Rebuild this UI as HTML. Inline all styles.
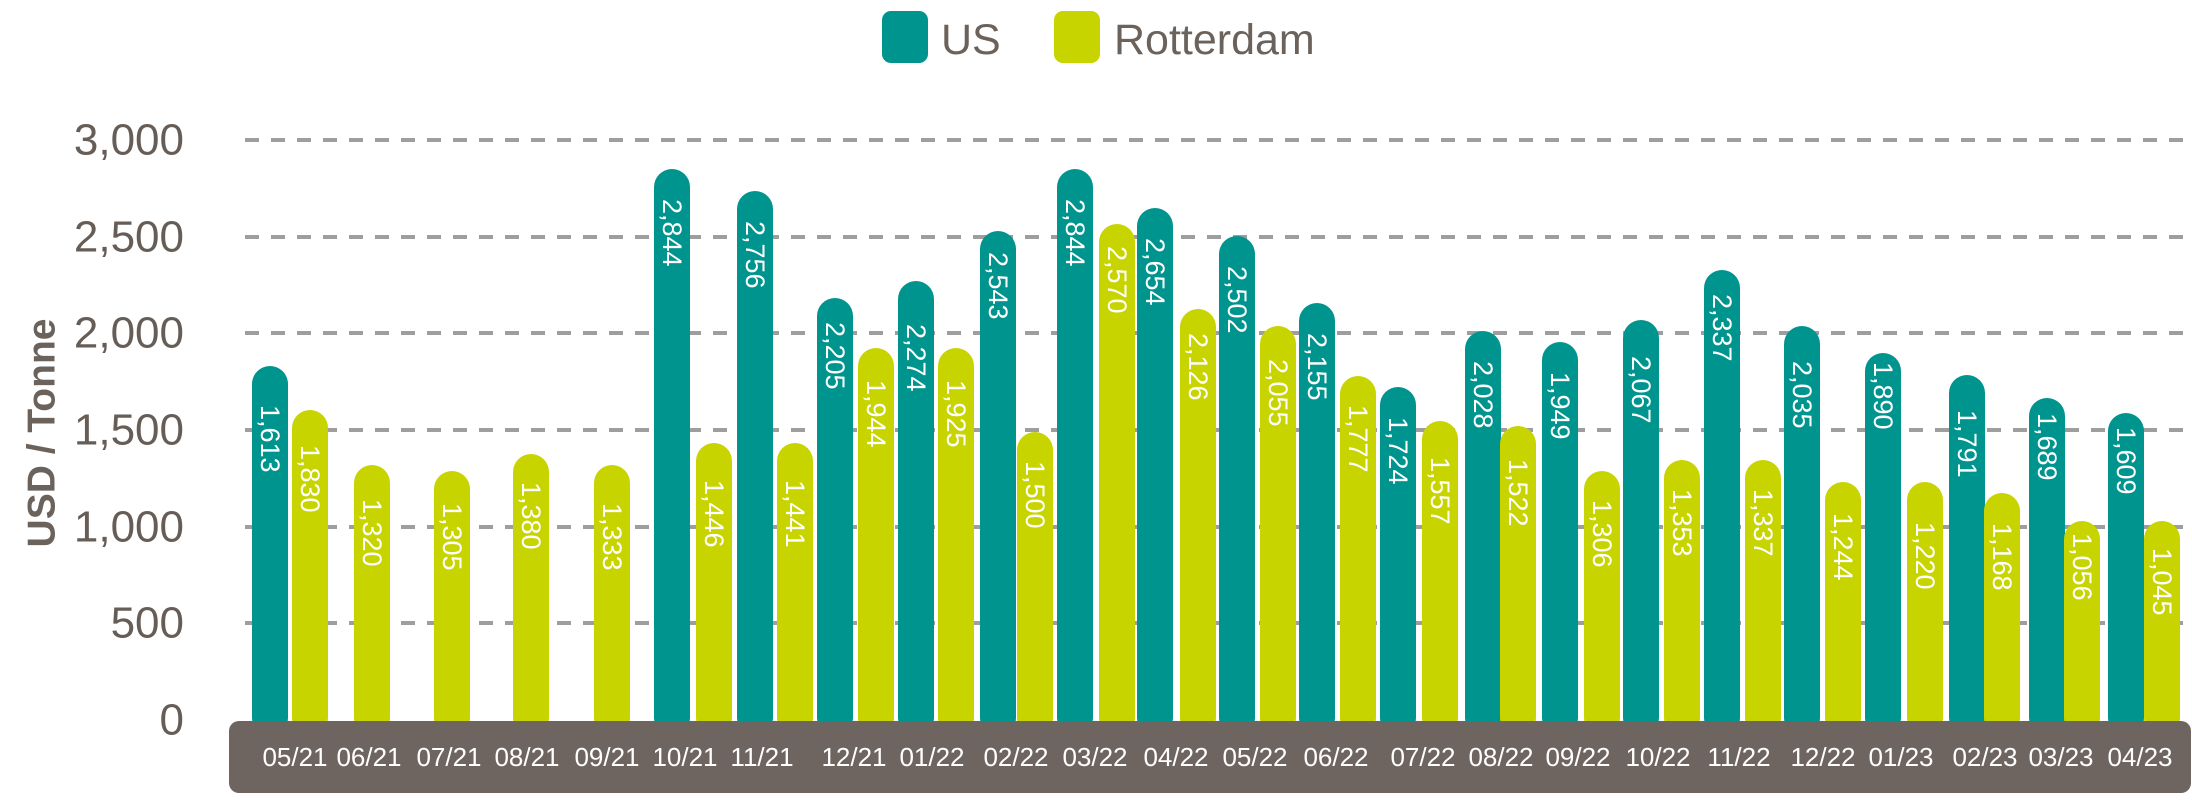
<!DOCTYPE html>
<html><head><meta charset="utf-8"><style>
html,body{margin:0;padding:0;background:#fff;}
svg{display:block;font-family:"Liberation Sans",sans-serif;}
</style></head><body>
<svg width="2192" height="809" viewBox="0 0 2192 809" xmlns="http://www.w3.org/2000/svg">
<rect x="882" y="11" width="46" height="52" rx="9" fill="#00948f"/>
<text x="941" y="54" font-size="43" fill="#6b625c">US</text>
<rect x="1054" y="11" width="46" height="52" rx="9" fill="#c8d400"/>
<text x="1114" y="54" font-size="43" fill="#6b625c">Rotterdam</text>
<g stroke="#9e9e9e" stroke-width="4" stroke-dasharray="14 12">
<line x1="245" y1="140" x2="2192" y2="140"/>
<line x1="245" y1="237" x2="2192" y2="237"/>
<line x1="245" y1="333" x2="2192" y2="333"/>
<line x1="245" y1="430" x2="2192" y2="430"/>
<line x1="245" y1="527" x2="2192" y2="527"/>
<line x1="245" y1="623" x2="2192" y2="623"/>
</g>
<g font-size="44" fill="#665d57" text-anchor="end" dominant-baseline="central">
<text x="184" y="140">3,000</text>
<text x="184" y="237">2,500</text>
<text x="184" y="333">2,000</text>
<text x="184" y="430">1,500</text>
<text x="184" y="527">1,000</text>
<text x="184" y="623">500</text>
<text x="184" y="720">0</text>
</g>
<text transform="translate(42,433) rotate(-90)" font-size="39" font-weight="bold" fill="#6b625c" text-anchor="middle" dominant-baseline="central">USD / Tonne</text>
<g>
<rect x="252" y="366" width="36" height="370" rx="18" fill="#00948f"/>
<rect x="292" y="410" width="36" height="326" rx="18" fill="#c8d400"/>
<rect x="354" y="465" width="36" height="271" rx="18" fill="#c8d400"/>
<rect x="434" y="471" width="36" height="265" rx="18" fill="#c8d400"/>
<rect x="513" y="454" width="36" height="282" rx="18" fill="#c8d400"/>
<rect x="594" y="465" width="36" height="271" rx="18" fill="#c8d400"/>
<rect x="654" y="169" width="36" height="567" rx="18" fill="#00948f"/>
<rect x="696" y="443" width="36" height="293" rx="18" fill="#c8d400"/>
<rect x="737" y="191" width="36" height="545" rx="18" fill="#00948f"/>
<rect x="777" y="443" width="36" height="293" rx="18" fill="#c8d400"/>
<rect x="817" y="298" width="36" height="438" rx="18" fill="#00948f"/>
<rect x="858" y="348" width="36" height="388" rx="18" fill="#c8d400"/>
<rect x="898" y="281" width="36" height="455" rx="18" fill="#00948f"/>
<rect x="938" y="348" width="36" height="388" rx="18" fill="#c8d400"/>
<rect x="980" y="231" width="36" height="505" rx="18" fill="#00948f"/>
<rect x="1017" y="432" width="36" height="304" rx="18" fill="#c8d400"/>
<rect x="1057" y="169" width="36" height="567" rx="18" fill="#00948f"/>
<rect x="1099" y="224" width="36" height="512" rx="18" fill="#c8d400"/>
<rect x="1137" y="208" width="36" height="528" rx="18" fill="#00948f"/>
<rect x="1180" y="309" width="36" height="427" rx="18" fill="#c8d400"/>
<rect x="1219" y="236" width="36" height="500" rx="18" fill="#00948f"/>
<rect x="1260" y="326" width="36" height="410" rx="18" fill="#c8d400"/>
<rect x="1299" y="303" width="36" height="433" rx="18" fill="#00948f"/>
<rect x="1340" y="376" width="36" height="360" rx="18" fill="#c8d400"/>
<rect x="1380" y="387" width="36" height="349" rx="18" fill="#00948f"/>
<rect x="1422" y="421" width="36" height="315" rx="18" fill="#c8d400"/>
<rect x="1465" y="331" width="36" height="405" rx="18" fill="#00948f"/>
<rect x="1500" y="426" width="36" height="310" rx="18" fill="#c8d400"/>
<rect x="1542" y="342" width="36" height="394" rx="18" fill="#00948f"/>
<rect x="1584" y="471" width="36" height="265" rx="18" fill="#c8d400"/>
<rect x="1623" y="320" width="36" height="416" rx="18" fill="#00948f"/>
<rect x="1664" y="460" width="36" height="276" rx="18" fill="#c8d400"/>
<rect x="1704" y="270" width="36" height="466" rx="18" fill="#00948f"/>
<rect x="1745" y="460" width="36" height="276" rx="18" fill="#c8d400"/>
<rect x="1784" y="326" width="36" height="410" rx="18" fill="#00948f"/>
<rect x="1825" y="482" width="36" height="254" rx="18" fill="#c8d400"/>
<rect x="1865" y="353" width="36" height="383" rx="18" fill="#00948f"/>
<rect x="1907" y="482" width="36" height="254" rx="18" fill="#c8d400"/>
<rect x="1949" y="375" width="36" height="361" rx="18" fill="#00948f"/>
<rect x="1984" y="493" width="36" height="243" rx="18" fill="#c8d400"/>
<rect x="2029" y="398" width="36" height="338" rx="18" fill="#00948f"/>
<rect x="2064" y="521" width="36" height="215" rx="18" fill="#c8d400"/>
<rect x="2108" y="413" width="36" height="323" rx="18" fill="#00948f"/>
<rect x="2144" y="521" width="36" height="215" rx="18" fill="#c8d400"/>
</g>
<g font-size="27" fill="#fff" dominant-baseline="central">
<text transform="translate(270,405) rotate(90)">1,613</text>
<text transform="translate(310,445) rotate(90)">1,830</text>
<text transform="translate(372,499) rotate(90)">1,320</text>
<text transform="translate(452,503) rotate(90)">1,305</text>
<text transform="translate(531,482) rotate(90)">1,380</text>
<text transform="translate(612,503) rotate(90)">1,333</text>
<text transform="translate(672,199) rotate(90)">2,844</text>
<text transform="translate(714,480) rotate(90)">1,446</text>
<text transform="translate(755,221) rotate(90)">2,756</text>
<text transform="translate(795,480) rotate(90)">1,441</text>
<text transform="translate(835,322) rotate(90)">2,205</text>
<text transform="translate(876,380) rotate(90)">1,944</text>
<text transform="translate(916,324) rotate(90)">2,274</text>
<text transform="translate(956,380) rotate(90)">1,925</text>
<text transform="translate(998,252) rotate(90)">2,543</text>
<text transform="translate(1035,461) rotate(90)">1,500</text>
<text transform="translate(1075,199) rotate(90)">2,844</text>
<text transform="translate(1117,246) rotate(90)">2,570</text>
<text transform="translate(1155,238) rotate(90)">2,654</text>
<text transform="translate(1198,333) rotate(90)">2,126</text>
<text transform="translate(1237,266) rotate(90)">2,502</text>
<text transform="translate(1278,359) rotate(90)">2,055</text>
<text transform="translate(1317,333) rotate(90)">2,155</text>
<text transform="translate(1358,405) rotate(90)">1,777</text>
<text transform="translate(1398,417) rotate(90)">1,724</text>
<text transform="translate(1440,457) rotate(90)">1,557</text>
<text transform="translate(1483,361) rotate(90)">2,028</text>
<text transform="translate(1518,459) rotate(90)">1,522</text>
<text transform="translate(1560,372) rotate(90)">1,949</text>
<text transform="translate(1602,500) rotate(90)">1,306</text>
<text transform="translate(1641,356) rotate(90)">2,067</text>
<text transform="translate(1682,489) rotate(90)">1,353</text>
<text transform="translate(1722,294) rotate(90)">2,337</text>
<text transform="translate(1763,489) rotate(90)">1,337</text>
<text transform="translate(1802,361) rotate(90)">2,035</text>
<text transform="translate(1843,513) rotate(90)">1,244</text>
<text transform="translate(1883,362) rotate(90)">1,890</text>
<text transform="translate(1925,522) rotate(90)">1,220</text>
<text transform="translate(1967,410) rotate(90)">1,791</text>
<text transform="translate(2002,523) rotate(90)">1,168</text>
<text transform="translate(2047,413) rotate(90)">1,689</text>
<text transform="translate(2082,533) rotate(90)">1,056</text>
<text transform="translate(2126,427) rotate(90)">1,609</text>
<text transform="translate(2162,548) rotate(90)">1,045</text>
</g>
<rect x="229" y="721" width="1962" height="72" rx="10" fill="#6f6560"/>
<g font-size="26" fill="#fff" text-anchor="middle" dominant-baseline="central">
<text x="295" y="757">05/21</text>
<text x="369" y="757">06/21</text>
<text x="449" y="757">07/21</text>
<text x="527" y="757">08/21</text>
<text x="607" y="757">09/21</text>
<text x="685" y="757">10/21</text>
<text x="762" y="757">11/21</text>
<text x="854" y="757">12/21</text>
<text x="932" y="757">01/22</text>
<text x="1016" y="757">02/22</text>
<text x="1095" y="757">03/22</text>
<text x="1176" y="757">04/22</text>
<text x="1255" y="757">05/22</text>
<text x="1336" y="757">06/22</text>
<text x="1423" y="757">07/22</text>
<text x="1501" y="757">08/22</text>
<text x="1578" y="757">09/22</text>
<text x="1658" y="757">10/22</text>
<text x="1739" y="757">11/22</text>
<text x="1823" y="757">12/22</text>
<text x="1901" y="757">01/23</text>
<text x="1985" y="757">02/23</text>
<text x="2061" y="757">03/23</text>
<text x="2140" y="757">04/23</text>
</g>
</svg>
</body></html>
